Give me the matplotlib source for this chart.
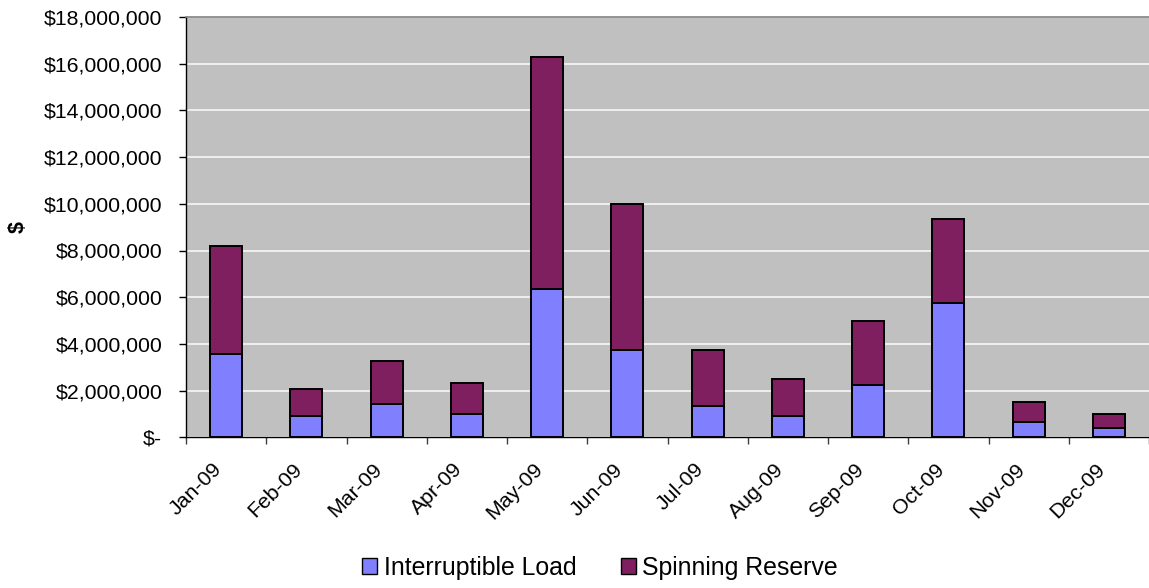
import matplotlib
matplotlib.use("Agg")
import matplotlib.pyplot as plt
import matplotlib.transforms as mtransforms
from matplotlib.ticker import FuncFormatter, FixedLocator
from matplotlib.patches import Patch

plt.rcParams['font.family'] = ['Liberation Sans', 'DejaVu Sans']

months = ["Jan-09", "Feb-09", "Mar-09", "Apr-09", "May-09", "Jun-09",
          "Jul-09", "Aug-09", "Sep-09", "Oct-09", "Nov-09", "Dec-09"]
interruptible_load = [3.56e6, 0.91e6, 1.41e6, 1.00e6, 6.33e6, 3.75e6,
                      1.33e6, 0.90e6, 2.24e6, 5.74e6, 0.65e6, 0.41e6]
totals = [8.18e6, 2.08e6, 3.25e6, 2.32e6, 16.30e6, 10.00e6,
          3.75e6, 2.49e6, 5.00e6, 9.36e6, 1.50e6, 1.00e6]
spinning_reserve = [t - il for t, il in zip(totals, interruptible_load)]

COL_IL = "#8080FF"
COL_SR = "#801F60"

fig = plt.figure(figsize=(11.49, 5.88), dpi=100)
ax = fig.add_axes([186 / 1149, 1 - 437.3 / 588, 1 - 186 / 1149, (437.3 - 17) / 588])
ax.set_facecolor("#C0C0C0")

x = list(range(len(months)))
ax.bar(x, interruptible_load, width=0.4, color=COL_IL, edgecolor="black",
       linewidth=1.4, zorder=3)
ax.bar(x, spinning_reserve, width=0.4, bottom=interruptible_load, color=COL_SR,
       edgecolor="black", linewidth=1.4, zorder=3)

ax.set_xlim(-0.5, 11.5)
ax.set_ylim(0, 18e6)
ax.set_yticks([i * 2e6 for i in range(10)])


def money(v, pos):
    if v == 0:
        return "$-"
    return "${:,.0f}".format(v)


ax.yaxis.set_major_formatter(FuncFormatter(money))
ax.yaxis.grid(True, color="#F2F2F2", linewidth=1.3, zorder=1)
ax.set_axisbelow(True)

ax.set_xticks(x)
ax.set_xticklabels(months, rotation=45, ha="right", va="center",
                   rotation_mode="anchor")
ax.xaxis.set_minor_locator(FixedLocator([i - 0.5 for i in range(13)]))
ax.tick_params(axis="x", which="major", length=0, pad=21, labelsize=15.3)
ax.tick_params(axis="x", which="minor", length=5, width=1, color="#404040",
               direction="out")
ax.tick_params(axis="y", length=5, width=1, direction="out", pad=12,
               labelsize=15.3)

# nudge the slanted month labels a little to the left
shift = mtransforms.ScaledTranslation(-7 / 100, 0, fig.dpi_scale_trans)
for lbl in ax.get_xticklabels():
    lbl.set_transform(lbl.get_transform() + shift)

for side in ("left", "bottom"):
    ax.spines[side].set_color("black")
    ax.spines[side].set_linewidth(1.0)
ax.spines["top"].set_color("#808080")
ax.spines["top"].set_linewidth(1.2)
ax.spines["right"].set_visible(False)

fig.text(18 / 1149, 1 - 227 / 588, "$", rotation=90, fontsize=15.5,
         fontweight="bold", ha="center", va="center")

handles = [Patch(facecolor=COL_IL, edgecolor="black", linewidth=1.0),
           Patch(facecolor=COL_SR, edgecolor="black", linewidth=1.0)]
fig.legend(handles, ["Interruptible Load", "Spinning Reserve"],
           loc="center", bbox_to_anchor=(600 / 1149, 1 - 568 / 588), ncol=2,
           frameon=False, fontsize=17.9, handlelength=0.6, handleheight=0.6,
           handletextpad=0.25, columnspacing=1.8)

fig.savefig("out.png", dpi=100)
